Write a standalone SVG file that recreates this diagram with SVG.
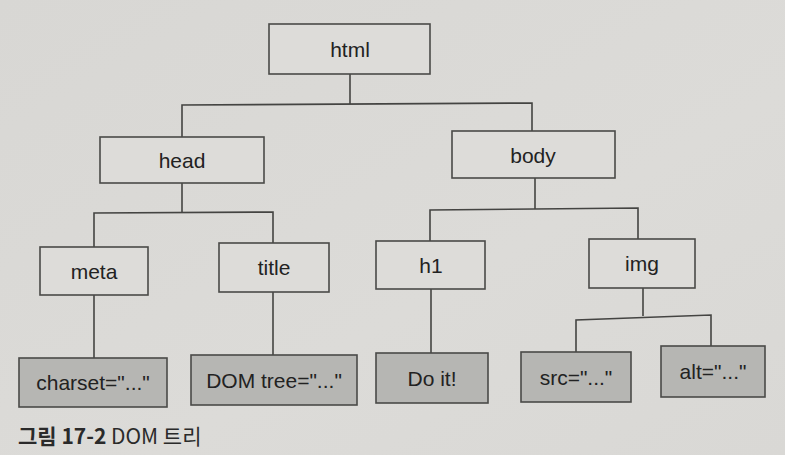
<svg xmlns="http://www.w3.org/2000/svg" width="785" height="455" viewBox="0 0 785 455">
<defs>
<linearGradient id="bg" x1="0" y1="0" x2="1" y2="1">
<stop offset="0" stop-color="#d8d7d4"/>
<stop offset="0.6" stop-color="#dcdbd8"/>
<stop offset="1" stop-color="#d9d8d5"/>
</linearGradient>
<style>
.box{fill:#dddcd9;stroke:#4a4a48;stroke-width:1.6}
.leaf{fill:#b6b6b3;stroke:#4a4a48;stroke-width:1.6}
.lbl{font-family:"Liberation Sans",Arial,sans-serif;font-size:21px;fill:#222;text-anchor:middle;dominant-baseline:central}
.conn{fill:none;stroke:#444442;stroke-width:1.6}
.cap{font-family:"Noto Sans CJK KR","Noto Sans",sans-serif;font-size:21px;fill:#2a2a2a}
</style>
</defs>
<rect width="785" height="455" fill="url(#bg)"/>
<g id="connectors" class="conn">
<polyline points="350,74 350,104"/>
<polyline points="182,137 182,105 532,103 532,131"/>
<polyline points="182,182 182,213"/>
<polyline points="94,247 94,213 273,212 273,243"/>
<polyline points="535,178 535,209"/>
<polyline points="430,241 430,210 638,208 638,239"/>
<polyline points="643,288 643,316"/>
<polyline points="576,352 576,320 711,315 711,346"/>
<line x1="94" y1="295" x2="94" y2="358"/>
<line x1="273" y1="292" x2="273" y2="355"/>
<line x1="431" y1="289" x2="431" y2="353"/>
</g>
<g id="html"><rect class="box" x="269" y="24" width="161" height="50"/><text class="lbl" x="350" y="49">html</text></g>
<g id="head"><rect class="box" x="100" y="137" width="164" height="46"/><text class="lbl" x="182" y="160">head</text></g>
<g id="body"><rect class="box" x="452" y="131" width="163" height="47"/><text class="lbl" x="533" y="155">body</text></g>
<g id="meta"><rect class="box" x="40" y="247" width="108" height="48"/><text class="lbl" x="94" y="271">meta</text></g>
<g id="title"><rect class="box" x="219" y="243" width="110" height="49"/><text class="lbl" x="274" y="267">title</text></g>
<g id="h1"><rect class="box" x="376" y="241" width="109" height="48"/><text class="lbl" x="431" y="265">h1</text></g>
<g id="img"><rect class="box" x="589" y="239" width="106" height="49"/><text class="lbl" x="642" y="263">img</text></g>
<g id="charset"><rect class="leaf" x="19" y="358" width="148" height="49"/><text class="lbl" x="93" y="382">charset="..."</text></g>
<g id="domtree"><rect class="leaf" x="191" y="355" width="166" height="50"/><text class="lbl" x="274" y="380">DOM tree="..."</text></g>
<g id="doit"><rect class="leaf" x="376" y="353" width="112" height="50"/><text class="lbl" x="432" y="378">Do it!</text></g>
<g id="src"><rect class="leaf" x="521" y="352" width="110" height="50"/><text class="lbl" x="576" y="377">src="..."</text></g>
<g id="alt"><rect class="leaf" x="661" y="346" width="104" height="51"/><text class="lbl" x="713" y="371">alt="..."</text></g>
<text class="cap" x="18" y="444"><tspan font-weight="bold">그림 17-2</tspan> DOM 트리</text>
</svg>
